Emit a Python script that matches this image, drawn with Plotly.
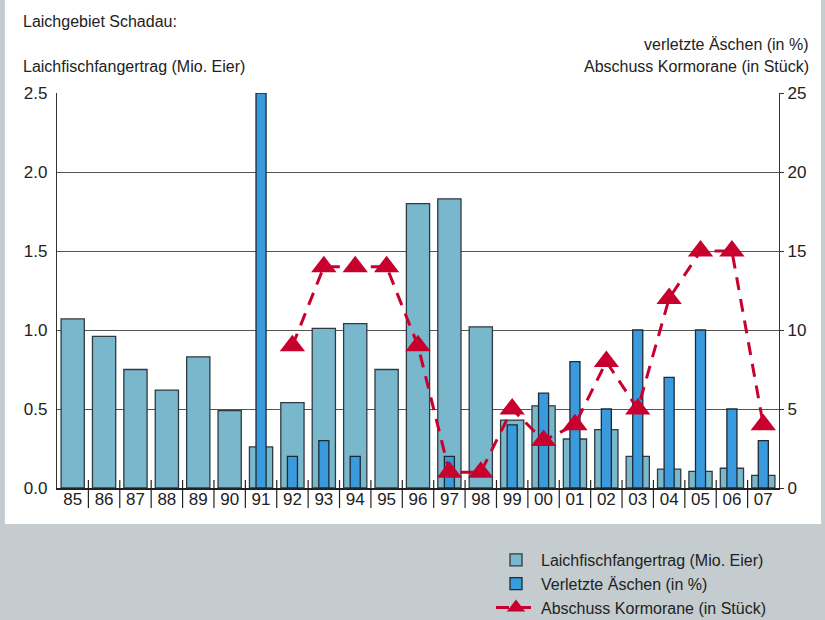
import plotly.graph_objects as go

years = ["85","86","87","88","89","90","91","92","93","94","95","96","97","98","99","00","01","02","03","04","05","06","07"]
laich = [1.07,0.96,0.75,0.62,0.83,0.49,0.26,0.54,1.01,1.04,0.75,1.80,1.83,1.02,0.43,0.52,0.31,0.37,0.20,0.12,0.105,0.125,0.08]
aeschen = [None,None,None,None,None,None,25,2,3,2,None,None,2,None,4,6,8,5,10,7,10,5,3]
korm_years = ["92","93","94","95","96","97","98","99","00","01","02","03","04","05","06","07"]
kormorane = [9,14,14,14,9,1,1,5,3,4,8,5,12,15,15,4]

left_ticks = [0,0.5,1.0,1.5,2.0,2.5]
left_labels = ["0.0","0.5","1.0","1.5","2.0","2.5"]
right_ticks = [0,5,10,15,20,25]

FONT = "Liberation Sans, Arial, sans-serif"
TXT = "#222222"

fig = go.Figure()
fig.add_trace(go.Bar(x=years, y=laich, name="Laichfischfangertrag (Mio. Eier)",
                     marker=dict(color="#79b8cc", line=dict(color="#2f3a40", width=1.3)),
                     width=0.74, yaxis="y"))
fig.add_trace(go.Bar(x=years, y=aeschen, name="Verletzte Äschen (in %)",
                     marker=dict(color="#3a9ade", line=dict(color="#1d2a33", width=1.3)),
                     width=0.32, yaxis="y2"))
fig.add_trace(go.Scatter(x=korm_years, y=kormorane, name="Abschuss Kormorane (in Stück)",
                         mode="lines+markers", yaxis="y2",
                         line=dict(color="#c8002e", width=3, dash="13px,9px"),
                         marker=dict(symbol="triangle-up", size=22, color="#c8002e")))

shapes = [dict(type="rect", xref="paper", yref="paper", x0=-52/720, x1=762/720,
               y0=-36/395, y1=1+100/395, fillcolor="white", line=dict(width=0), layer="below")]
for i in range(len(years) - 1):
    shapes.append(dict(type="line", xref="x", yref="paper", x0=i + 0.5, x1=i + 0.5,
                       y0=8/395, y1=-20/395, line=dict(color="#222", width=1.2)))

annotations = [
    dict(text="Laichgebiet Schadau:", xref="paper", yref="paper", x=-36/720, y=1+71/395,
         xanchor="left", yanchor="middle", showarrow=False, font=dict(size=16, color=TXT, family=FONT)),
    dict(text="Laichfischfangertrag (Mio. Eier)", xref="paper", yref="paper", x=-36/720, y=1+27/395,
         xanchor="left", yanchor="middle", showarrow=False, font=dict(size=16, color=TXT, family=FONT)),
    dict(text="verletzte Äschen (in %)", xref="paper", yref="paper", x=1+32/720, y=1+49/395,
         xanchor="right", yanchor="middle", showarrow=False, font=dict(size=16, color=TXT, family=FONT)),
    dict(text="Abschuss Kormorane (in Stück)", xref="paper", yref="paper", x=1+32/720, y=1+27/395,
         xanchor="right", yanchor="middle", showarrow=False, font=dict(size=16, color=TXT, family=FONT)),
]

fig.update_layout(
    width=825, height=620,
    margin=dict(l=57, r=46, t=93, b=132, autoexpand=False),
    paper_bgcolor="#c4cccf", plot_bgcolor="rgba(0,0,0,0)",
    barmode="overlay",
    font=dict(family=FONT, color=TXT, size=17),
    xaxis=dict(type="category", categoryorder="array", categoryarray=years, automargin=False,
               range=[-0.5, len(years) - 0.5], showline=True, linecolor="#222", linewidth=1.5,
               ticks="", tickfont=dict(size=17, color=TXT), showgrid=False, ticklabelstandoff=-5),
    yaxis=dict(range=[0, 2.5], tickvals=left_ticks, ticktext=left_labels, showgrid=True, automargin=False,
               gridcolor="#555", gridwidth=1.4, showline=True, linecolor="#333", linewidth=1.3,
               zeroline=False, ticks="", tickfont=dict(size=17, color=TXT), ticklabelstandoff=5),
    yaxis2=dict(range=[0, 25], tickvals=right_ticks, overlaying="y", side="right", showgrid=False,
                automargin=False,
                showline=True, linecolor="#333", linewidth=1.3, zeroline=False,
                ticks="outside", ticklen=4, tickcolor="#333", tickfont=dict(size=17, color=TXT)),
    legend=dict(xref="container", yref="container", x=491/825, y=1-543/620, xanchor="left", yanchor="top",
                bgcolor="rgba(0,0,0,0)",
                font=dict(size=16, color=TXT, family=FONT), tracegroupgap=0, itemwidth=40),
    shapes=shapes, annotations=annotations, showlegend=True,
)

fig.write_html("out.html", config={"displayModeBar": False},
               post_script="document.body.style.margin='0';document.body.style.overflow='hidden';")
